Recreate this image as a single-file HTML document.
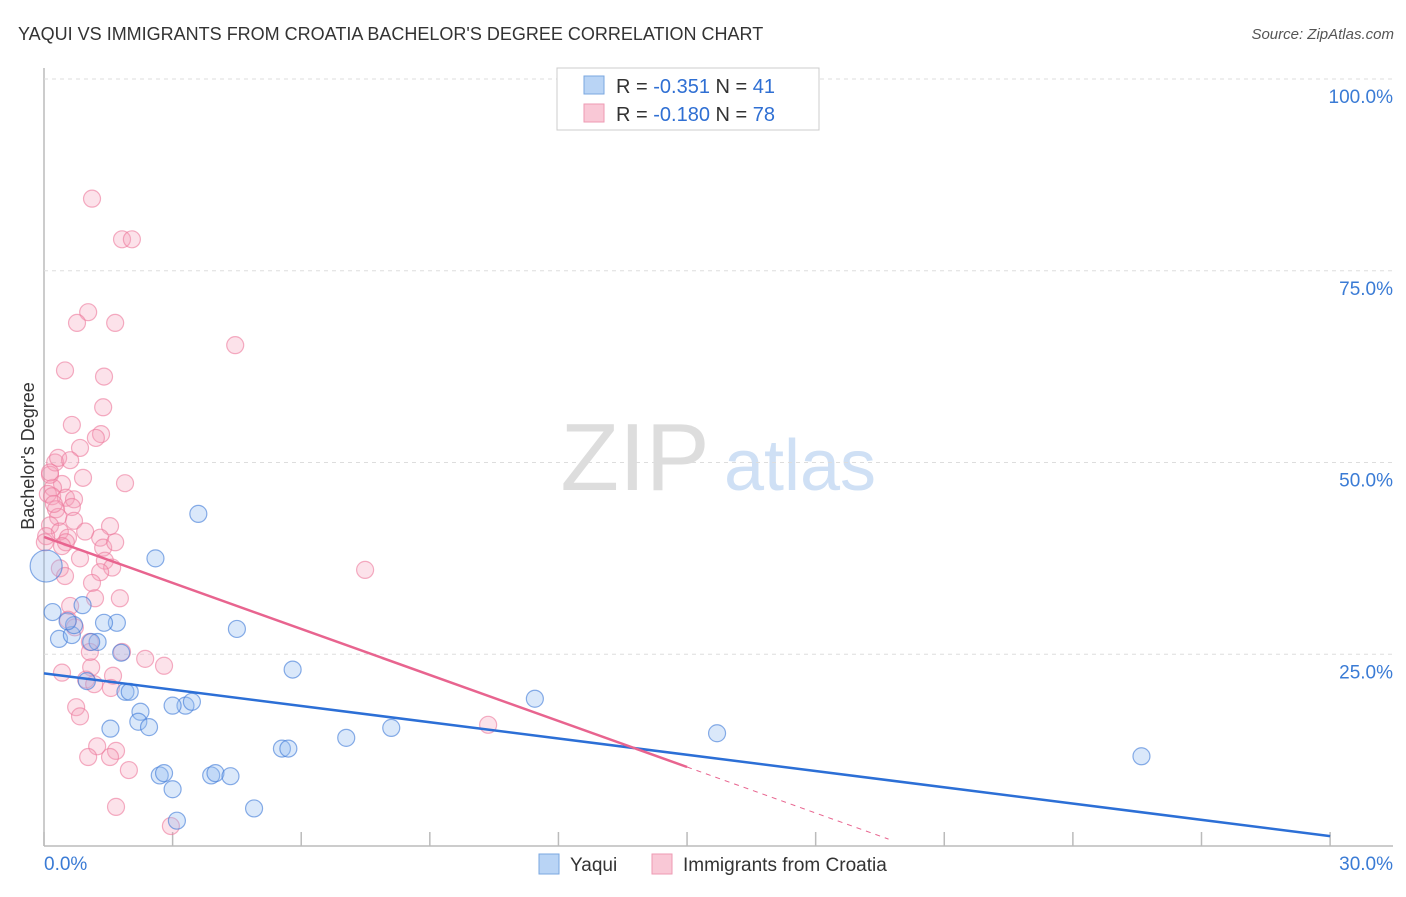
<!DOCTYPE html>
<html><head><meta charset="utf-8"><style>
body{margin:0;background:#fff;font-family:"Liberation Sans",sans-serif}
svg text{font-family:"Liberation Sans",sans-serif}
</style></head><body>
<svg id="c" width="1406" height="892">
<text x="18" y="40" font-size="18" fill="#333">YAQUI VS IMMIGRANTS FROM CROATIA BACHELOR'S DEGREE CORRELATION CHART</text>
<text x="1394" y="39" font-size="15" fill="#555" font-style="italic" text-anchor="end">Source: ZipAtlas.com</text>
<text x="34" y="456" font-size="18" fill="#333" transform="rotate(-90 34 456)" text-anchor="middle">Bachelor's Degree</text>
<g><text x="635" y="490" font-size="96" fill="#ddd" font-family="Liberation Serif" text-anchor="middle">ZIP</text><text x="800" y="490" font-size="72" fill="#cfe0f5" text-anchor="middle">atlas</text></g>
<g id="grid"></g><g id="pts"></g><g id="lines"></g>
<g>
<rect x="557" y="68" width="262" height="62" fill="#fff" stroke="#ccc"/>
<rect x="584" y="76" width="20" height="18" fill="#b9d4f5" stroke="#7aa7e0"/>
<rect x="584" y="104" width="20" height="18" fill="#f9c8d6" stroke="#ee9ab3"/>
<text x="616" y="93" font-size="20" fill="#333">R = <tspan fill="#2f6fd3">-0.351</tspan>   N = <tspan fill="#2f6fd3">41</tspan></text>
<text x="616" y="121" font-size="20" fill="#333">R = <tspan fill="#2f6fd3">-0.180</tspan>   N = <tspan fill="#2f6fd3">78</tspan></text>
</g>
<g>
<rect x="539" y="854" width="20" height="20" fill="#b9d4f5" stroke="#7aa7e0"/>
<text x="570" y="871" font-size="19" fill="#333">Yaqui</text>
<rect x="652" y="854" width="20" height="20" fill="#f9c8d6" stroke="#ee9ab3"/>
<text x="683" y="871" font-size="19" fill="#333">Immigrants from Croatia</text>
</g>
</svg>
<script>
const xTicks=[0,3,6,9,12,15,18,21,24,27,30];
const yTicks=[25,50,75,100];
const yTickLabels=["25.0%","50.0%","75.0%","100.0%"];
const blueX=[3.6,2.6,0.2,0.9,0.35,0.65,0.7,1.25,1.1,1.7,1.4,1.8,4.5,5.8,1.9,2.0,3.3,3.0,3.45,2.25,2.2,2.45,1.55,1.0,2.7,2.8,3.0,3.1,3.9,4.0,4.35,4.9,5.55,5.7,7.05,8.1,11.45,15.7,25.6,0.05,0.55];
const blueY=[43.3,37.5,30.5,31.4,27.0,27.5,28.8,26.6,26.6,29.1,29.1,25.2,28.3,23.0,20.1,20.1,18.3,18.3,18.8,17.5,16.2,15.5,15.3,21.5,9.2,9.5,7.4,3.3,9.2,9.5,9.1,4.9,12.7,12.7,14.1,15.4,19.2,14.7,11.7,36.5,29.3];
const pinkX=[1.12,1.82,2.05,1.03,0.77,1.66,4.46,0.49,1.4,1.38,0.65,1.33,1.21,0.84,0.91,1.89,0.42,0.21,0.09,0.19,0.51,0.7,0.65,0.28,0.33,0.7,1.54,0.14,0.37,0.05,0.56,1.31,0.51,1.38,0.84,1.42,1.59,1.31,0.37,1.12,1.19,0.61,0.56,0.72,1.07,1.82,2.36,2.8,0.42,1.1,1.61,0.98,1.17,1.56,0.75,0.84,1.24,1.68,1.03,1.54,1.98,1.68,2.96,7.49,10.36,0.02,0.14,0.26,0.14,0.33,1.66,0.23,0.42,0.49,1.07,1.77,0.96,0.61];
const pinkY=[84.4,79.1,79.1,69.6,68.2,68.2,65.3,62.0,61.2,57.2,54.9,53.7,53.2,51.9,48.0,47.3,47.2,46.7,45.9,45.6,45.4,45.2,44.2,43.9,42.9,42.4,41.7,41.8,41.0,40.4,40.2,40.2,39.6,38.9,37.5,37.2,36.3,35.7,36.2,34.3,32.3,31.3,29.5,28.5,26.6,25.3,24.4,23.5,22.6,23.3,22.2,21.7,21.1,20.6,18.1,16.9,13.0,12.4,11.6,11.6,9.9,5.1,2.6,36.0,15.8,39.6,48.4,50.0,48.7,50.6,39.6,44.6,39.1,35.2,25.3,32.3,41.0,50.3];
const blueLine=[22.5,-0.707];
const pinkLine=[40.3,-2.0];
const X=v=>44+v*42.87, Y=v=>846-v*7.67;
const NS="http://www.w3.org/2000/svg";
function mk(t,a,p){const e=document.createElementNS(NS,t);for(const k in a)e.setAttribute(k,a[k]);p.appendChild(e);return e;}
const g=document.getElementById('grid');
let ax=mk('line',{x1:44,y1:68,x2:44,y2:846,stroke:'#bbb','stroke-width':1.5},g);


let bx=mk('line',{x1:44,y1:846,x2:1393,y2:846,stroke:'#bbb','stroke-width':1.5},g);


yTicks.forEach((v,i)=>{
 let l=mk('line',{x1:44,y1:Y(v),x2:1393,y2:Y(v),stroke:'#ddd','stroke-dasharray':'4,4'},g);
 
 
 let t=mk('text',{x:1393,y:Y(v)+24,'font-size':19,fill:'#3a7bd5','text-anchor':'end'},g);t.textContent=yTickLabels[i];
 
 
});
xTicks.forEach(v=>{let l=mk('line',{x1:X(v),y1:832,x2:X(v),y2:846,stroke:'#bbb','stroke-width':1.5},g);
 
 });
[[0,"0.0%","start",44],[30,"30.0%","end",1393]].forEach(d=>{let t=mk('text',{x:d[3],y:870,'font-size':19,fill:'#3a7bd5','text-anchor':d[2]},g);t.textContent=d[1];
 
 });
const p=document.getElementById('pts');
pinkX.forEach((x,i)=>{let c=mk('circle',{cx:X(x),cy:Y(pinkY[i]),r:8.5,fill:'rgba(246,160,185,0.3)',stroke:'rgba(236,120,155,0.6)','stroke-width':1.2},p);
 
 });
blueX.forEach((x,i)=>{let c=mk('circle',{cx:X(x),cy:Y(blueY[i]),r:i==39?16:8.5,fill:'rgba(150,190,240,0.35)',stroke:'rgba(60,120,215,0.6)','stroke-width':1.2},p);
 
 });
const L=document.getElementById('lines');
let b=mk('line',{x1:X(0),y1:Y(blueLine[0]),x2:X(30),y2:Y(blueLine[0]+30*blueLine[1]),stroke:'#2c6fd6','stroke-width':2.5},L);


let pk=mk('line',{x1:X(0),y1:Y(pinkLine[0]),x2:X(15),y2:Y(pinkLine[0]+15*pinkLine[1]),stroke:'#e8648f','stroke-width':2.5},L);


let pd=mk('line',{x1:X(15),y1:Y(pinkLine[0]+15*pinkLine[1]),x2:X(19.7),y2:Y(pinkLine[0]+19.7*pinkLine[1]),stroke:'#e8648f','stroke-width':1,'stroke-dasharray':'5,5'},L);


</script>
</body></html>
